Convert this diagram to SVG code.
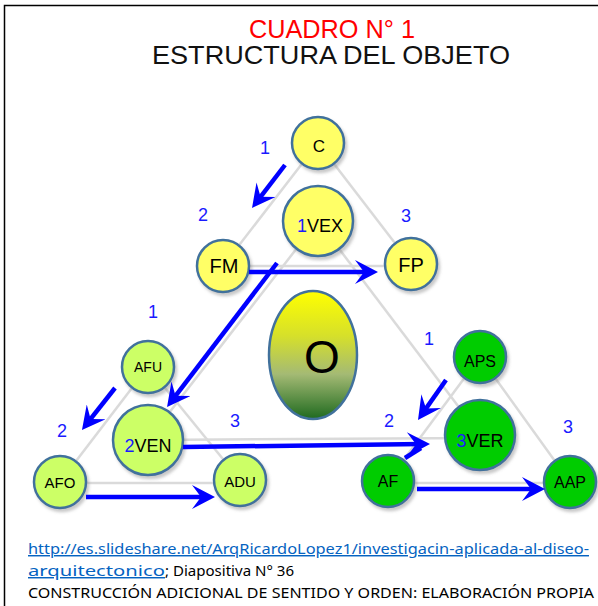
<svg xmlns="http://www.w3.org/2000/svg" width="598" height="606" viewBox="0 0 598 606">
<style>
.frame{fill:#fff;stroke:#000;stroke-width:1.5}
.tri{stroke:#dadada;stroke-width:2.5;fill:none}
.arr{stroke:#0000ff;stroke-width:4.5;fill:none;marker-end:url(#ah)}
.stub{stroke:#0000ff;stroke-width:4.5;fill:none}
.nd{stroke:#41719c;stroke-width:2.5;filter:url(#sh)}
.y{fill:#ffff66}
.lg{fill:#ccff66}
.g{fill:#00cc00}
.lbl{font-family:"Liberation Sans",Arial,sans-serif;fill:#000;text-anchor:middle}
.num{font-family:"Liberation Sans",Arial,sans-serif;fill:#1a1aff;font-size:18px;text-anchor:middle}
.title{font-family:"Liberation Sans",Arial,sans-serif;font-size:25px;text-anchor:middle}
.foot{font-family:"Noto Sans","Open Sans",sans-serif;font-size:14.5px}
.link{fill:#0563c1;text-decoration:underline}
</style>
<defs>
<marker id="ah" viewBox="-24 -12 24 24" markerWidth="24" markerHeight="24" refX="-8" refY="0" orient="auto" markerUnits="userSpaceOnUse">
<path d="M0,0 L-23,-12 L-14,0 L-23,12 Z" fill="#0000ff"/>
</marker>
<filter id="sh" x="-30%" y="-30%" width="160%" height="160%">
<feDropShadow dx="2" dy="3" stdDeviation="1.5" flood-color="#888" flood-opacity="0.45"/>
</filter>
<linearGradient id="og" x1="0" y1="0" x2="0" y2="1">
<stop offset="0" stop-color="#ffff00"/>
<stop offset="0.35" stop-color="#d6e02a"/>
<stop offset="0.65" stop-color="#a4ba74"/>
<stop offset="1" stop-color="#1f6a1f"/>
</linearGradient>
</defs>
<rect class="frame" x="4.5" y="5.5" width="600" height="610"/>
<text class="title" x="332" y="38" fill="#ff0000" textLength="166" lengthAdjust="spacingAndGlyphs">CUADRO N° 1</text>
<text class="title" x="331" y="64" fill="#111" textLength="358" lengthAdjust="spacingAndGlyphs">ESTRUCTURA DEL OBJETO</text>

<g id="triangles">
<line class="tri" x1="318" y1="143" x2="223" y2="266"/>
<line class="tri" x1="318" y1="143" x2="411" y2="264"/>
<line class="tri" x1="223" y1="266" x2="411" y2="266"/>
<line class="tri" x1="318" y1="221" x2="148" y2="440"/>
<line class="tri" x1="318" y1="221" x2="480" y2="435"/>
<line class="tri" x1="148" y1="440" x2="480" y2="438"/>
<line class="tri" x1="148" y1="367" x2="60" y2="482"/>
<line class="tri" x1="148" y1="367" x2="240" y2="480"/>
<line class="tri" x1="60" y1="483" x2="240" y2="483"/>
<line class="tri" x1="480" y1="357" x2="388" y2="481"/>
<line class="tri" x1="480" y1="357" x2="570" y2="482"/>
<line class="tri" x1="388" y1="483" x2="570" y2="483"/>
</g>

<g id="n-C"><circle class="nd y" cx="318" cy="143" r="26"/><text class="lbl" x="319" y="152" font-size="17">C</text></g>
<g id="n-1VEX"><circle class="nd y" cx="318" cy="221" r="35"/><text class="lbl" x="320" y="232" font-size="18"><tspan fill="#1a1aff">1</tspan>VEX</text></g>
<g id="n-FM"><circle class="nd y" cx="223" cy="266" r="26"/><text class="lbl" x="224" y="273" font-size="20">FM</text></g>
<g id="n-FP"><circle class="nd y" cx="411" cy="264" r="26"/><text class="lbl" x="411" y="272" font-size="20">FP</text></g>
<g id="n-O"><ellipse cx="313" cy="355" rx="44" ry="64" fill="url(#og)" stroke="#41719c" stroke-width="2.5"/><text class="lbl" x="322" y="373" font-size="46">O</text></g>
<g id="n-AFU"><circle class="nd lg" cx="148" cy="367" r="26"/><text class="lbl" x="148" y="372" font-size="14">AFU</text></g>
<g id="n-2VEN"><circle class="nd lg" cx="148" cy="440" r="35"/><text class="lbl" x="148" y="452" font-size="18"><tspan fill="#1a1aff">2</tspan>VEN</text></g>
<g id="n-AFO"><circle class="nd lg" cx="60" cy="482" r="26"/><text class="lbl" x="60" y="488" font-size="15">AFO</text></g>
<g id="n-ADU"><circle class="nd lg" cx="240" cy="480" r="26"/><text class="lbl" x="240" y="487" font-size="15">ADU</text></g>
<g id="n-APS"><circle class="nd g" cx="480" cy="357" r="26"/><text class="lbl" x="480" y="367" font-size="16">APS</text></g>
<g id="n-3VER"><circle class="nd g" cx="480" cy="435" r="35"/><text class="lbl" x="480" y="447" font-size="18"><tspan fill="#1a1aff">3</tspan>VER</text></g>
<g id="n-AF"><circle class="nd g" cx="388" cy="481" r="26"/><text class="lbl" x="388" y="487" font-size="16">AF</text></g>
<g id="n-AAP"><circle class="nd g" cx="570" cy="482" r="26"/><text class="lbl" x="570" y="488" font-size="16">AAP</text></g>

<g id="numbers">
<text class="num" x="265" y="154">1</text>
<text class="num" x="203" y="221">2</text>
<text class="num" x="406" y="222">3</text>
<text class="num" x="153" y="318">1</text>
<text class="num" x="62" y="437">2</text>
<text class="num" x="235" y="427">3</text>
<text class="num" x="429" y="345">1</text>
<text class="num" x="389" y="427">2</text>
<text class="num" x="568" y="433">3</text>
</g>

<g id="connectors">
<line class="arr" x1="285" y1="165" x2="256.9" y2="201.6"/>
<line class="arr" x1="249" y1="272" x2="370" y2="272"/>
<line class="arr" x1="277" y1="263" x2="171.9" y2="400.6"/>
<line class="arr" x1="115" y1="388" x2="86.9" y2="423.7"/>
<line class="arr" x1="86" y1="497" x2="207" y2="497"/>
<line class="arr" x1="183" y1="447" x2="422" y2="444.1"/>
<line class="stub" x1="405" y1="458" x2="421" y2="448"/>
<line class="arr" x1="446" y1="380" x2="422.6" y2="413.4"/>
<line class="arr" x1="417" y1="489" x2="537" y2="489"/>
</g>

<g id="footer" class="foot">
<text x="28" y="554" class="link" textLength="561" lengthAdjust="spacingAndGlyphs">http://es.slideshare.net/ArqRicardoLopez1/investigacin-aplicada-al-diseo-</text>
<text x="28" y="576"><tspan class="link" textLength="137" lengthAdjust="spacingAndGlyphs">arquitectonico</tspan><tspan fill="#000" textLength="129" lengthAdjust="spacingAndGlyphs">; Diapositiva N° 36</tspan></text>
<text x="28" y="598" fill="#000" textLength="566" lengthAdjust="spacingAndGlyphs">CONSTRUCCIÓN ADICIONAL DE SENTIDO Y ORDEN:  ELABORACIÓN PROPIA</text>
</g>
</svg>
